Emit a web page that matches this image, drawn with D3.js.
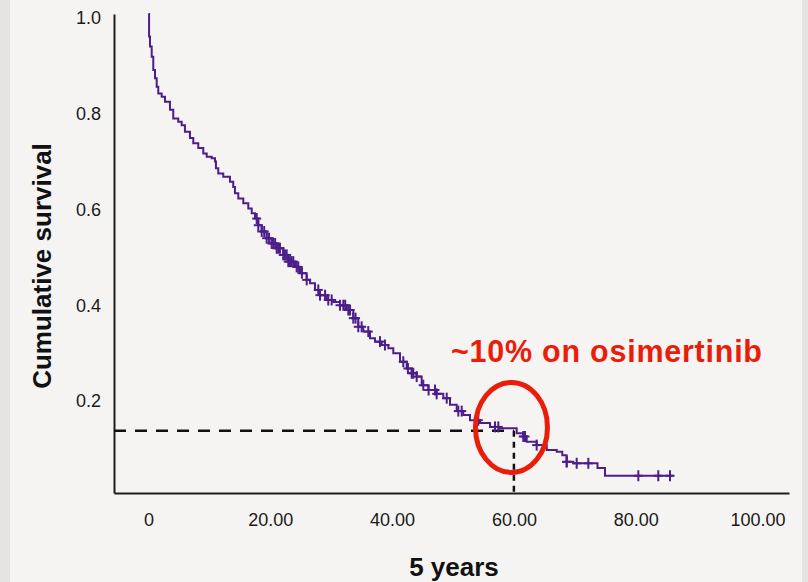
<!DOCTYPE html>
<html>
<head>
<meta charset="utf-8">
<script src="https://cdn.jsdelivr.net/npm/d3@7"></script>
<style>
  html, body { margin: 0; padding: 0; background: #f5f4f2; }
  svg { display: block; font-family: "Liberation Sans", Arial, sans-serif; }
</style>
</head>
<body>
<svg id="chart" width="808" height="582"></svg>
<script>
// Kaplan-Meier step points: time (months) and survival after each step
var stepTimes = [0, 0.1, 0.25, 0.53, 0.79, 1.07, 1.35, 1.61, 2.17, 2.71, 3.53, 4.07, 4.89, 5.45, 5.99,
  6.81, 7.36, 8.18, 9.00, 9.56, 10.38, 10.92, 11.08, 11.46, 12.28, 13.38, 13.92, 14.20, 14.75,
  15.57, 16.39, 16.95, 17.49, 18.03, 18.59, 19.41, 20.23, 21.05, 22.13, 22.96, 24.06, 24.88,
  25.98, 26.52, 27.34, 28.16, 29.26, 30.34, 31.45, 32.55, 33.63, 34.45, 35.27, 36.37, 37.19,
  38.29, 39.38, 40.20, 41.30, 42.40, 43.22, 44.04, 44.86, 45.94, 47.32, 48.41, 49.51, 50.61,
  51.69, 52.79, 54.43, 56.08, 57.72, 60.46, 61.54, 62.10, 63.74, 65.39, 67.03, 67.95, 68.67,
  69.75, 73.73, 74.96, 86.20];
var stepSurv = [1.000, 0.953, 0.932, 0.911, 0.883, 0.866, 0.848, 0.834, 0.827, 0.817, 0.800, 0.782,
  0.775, 0.768, 0.754, 0.741, 0.730, 0.720, 0.709, 0.702, 0.699, 0.692, 0.678, 0.667, 0.660,
  0.650, 0.639, 0.626, 0.615, 0.605, 0.594, 0.584, 0.573, 0.559, 0.546, 0.532, 0.521, 0.511,
  0.497, 0.483, 0.472, 0.459, 0.445, 0.438, 0.424, 0.413, 0.403, 0.399, 0.392, 0.382, 0.365,
  0.347, 0.337, 0.323, 0.316, 0.309, 0.302, 0.292, 0.274, 0.260, 0.250, 0.243, 0.225, 0.215,
  0.207, 0.198, 0.184, 0.171, 0.163, 0.152, 0.146, 0.138, 0.135, 0.125, 0.118, 0.107, 0.100,
  0.090, 0.086, 0.079, 0.065, 0.062, 0.052, 0.036, 0.036];
// censored observations (months)
var censorTimes = [17.77, 18.03, 18.59, 19.0, 19.41, 19.8, 20.23, 20.49, 20.8, 21.05, 21.3, 21.59,
  22.13, 22.4, 22.69, 22.96, 23.23, 23.5, 23.78, 24.33, 24.60, 25.2, 25.98, 27.88, 28.16, 29.0,
  29.52, 30.08, 31.45, 31.99, 32.3, 32.81, 33.1, 33.63, 34.0, 34.45, 35.0, 36.09, 38.01, 38.83,
  41.84, 42.6, 43.22, 43.48, 44.04, 45.12, 46.0, 47.04, 47.32, 48.97, 50.87, 51.43, 54.15, 56.90,
  57.44, 61.54, 61.82, 63.74, 68.67, 68.67, 70.31, 72.22, 80.43, 83.71, 85.63];

var xTicks = [0, 20, 40, 60, 80, 100];
var xTickLabels = ['0', '20.00', '40.00', '60.00', '80.00', '100.00'];
var yTicks = [0.2, 0.4, 0.6, 0.8, 1.0];
var yTickLabels = ['0.2', '0.4', '0.6', '0.8', '1.0'];
var xExtent = [-5.66, 105.17];
var refTime = 60, refSurv = 0.13;
var circleCenter = [59.6, 0.137];

/*************************************************************************/

var svg = d3.select('#chart');
var plotLeft = 114, plotRight = 789, plotTop = 14, plotBottom = 493;

svg.append('rect').attr('x', 0).attr('y', 0).attr('width', 808).attr('height', 582).attr('fill', '#f5f4f2');
svg.append('rect').attr('x', 0).attr('y', 0).attr('width', 10).attr('height', 582).attr('fill', '#e5e4e2');
svg.append('rect').attr('x', 802).attr('y', 0).attr('width', 6).attr('height', 582).attr('fill', '#e5e4e2');

var xScale = d3.scaleLinear().domain(xExtent).range([plotLeft, plotRight]);
var yScale = d3.scaleLinear().domain([0, 1]).range([plotBottom, plotTop]);

var xAxis = svg.append('g').attr('transform', 'translate(0,' + plotBottom + ')')
  .call(d3.axisBottom(xScale).tickValues(xTicks).tickSize(0).tickPadding(20)
    .tickFormat(function(d, i){ return xTickLabels[i]; }));
var yAxis = svg.append('g').attr('transform', 'translate(' + plotLeft + ',0)')
  .call(d3.axisLeft(yScale).tickValues(yTicks).tickSize(0).tickPadding(13)
    .tickFormat(function(d, i){ return yTickLabels[i]; }));

[xAxis, yAxis].forEach(function(ax){
  ax.select('.domain').attr('stroke', '#1c1c1c').attr('stroke-width', 2);
  ax.selectAll('text').attr('font-size', 18).attr('fill', '#1a1a1a')
    .attr('font-family', '"Liberation Sans", Arial, sans-serif');
});
yAxis.selectAll('text').attr('transform', 'translate(0,4)');

// reference dashed lines
svg.append('line')
  .attr('x1', plotLeft).attr('x2', xScale(refTime))
  .attr('y1', yScale(refSurv)).attr('y2', yScale(refSurv))
  .attr('stroke', '#111').attr('stroke-width', 2.5).attr('stroke-dasharray', '12,9');
svg.append('line')
  .attr('x1', xScale(refTime)).attr('x2', xScale(refTime))
  .attr('y1', yScale(refSurv)).attr('y2', plotBottom)
  .attr('stroke', '#111').attr('stroke-width', 2.5).attr('stroke-dasharray', '6,5');

// survival curve
var lineGen = d3.line()
  .x(function(d){ return xScale(d[0]); })
  .y(function(d){ return yScale(d[1]); })
  .curve(d3.curveStepAfter);
var points = stepTimes.map(function(t, i){ return [t, stepSurv[i]]; });
svg.append('path').attr('d', lineGen(points))
  .attr('fill', 'none').attr('stroke', '#4b1e8a').attr('stroke-width', 2);

function survAt(t){
  var i = d3.bisectRight(stepTimes, t) - 1;
  return stepSurv[Math.max(0, i)];
}
var marks = svg.append('g').attr('stroke', '#4b1e8a').attr('stroke-width', 2);
censorTimes.forEach(function(t){
  var cx = xScale(t), cy = yScale(survAt(t));
  marks.append('line').attr('x1', cx).attr('x2', cx).attr('y1', cy - 5.5).attr('y2', cy + 5.5);
  marks.append('line').attr('x1', cx - 4.5).attr('x2', cx + 4.5).attr('y1', cy).attr('y2', cy);
});

// highlight
svg.append('ellipse')
  .attr('cx', xScale(circleCenter[0])).attr('cy', yScale(circleCenter[1]))
  .attr('rx', 36).attr('ry', 45)
  .attr('fill', 'none').attr('stroke', '#ea1c0a').attr('stroke-width', 5);

svg.append('text').attr('x', 451).attr('y', 362)
  .attr('font-size', 30.5).attr('font-weight', 'bold').attr('fill', '#ea1c0a')
  .attr('textLength', 311).attr('lengthAdjust', 'spacing')
  .text('~10% on osimertinib');

// axis titles
svg.append('text').attr('transform', 'translate(51,266) rotate(-90)')
  .attr('text-anchor', 'middle').attr('font-size', 26).attr('font-weight', 'bold').attr('fill', '#111')
  .text('Cumulative survival');
svg.append('text').attr('x', 454).attr('y', 576)
  .attr('text-anchor', 'middle').attr('font-size', 26).attr('font-weight', 'bold').attr('fill', '#111')
  .text('5 years');
</script>
</body>
</html>
